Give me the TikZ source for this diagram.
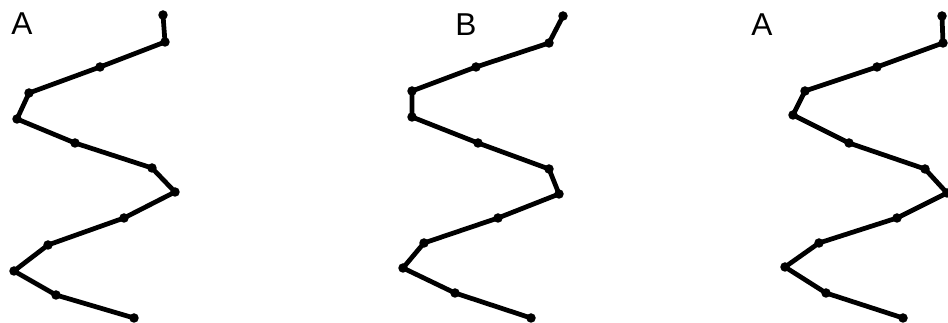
\documentclass[tikz,border=0pt]{standalone}
\usepackage{fontspec}
\setmainfont{Liberation Sans}
\usepackage{tikz}

\begin{document}
\begin{tikzpicture}[x=0.02cm,y=-0.02cm]
  \tikzstyle{joint}=[circle,fill=black,inner sep=0pt,minimum size=0.19cm]
  \tikzstyle{bond}=[line width=2.7pt,line cap=round]
  \tikzstyle{tag}=[font=\fontsize{18}{21}\selectfont]
  \useasboundingbox (0,0) rectangle (948,323);
  % left chain
  \node[tag] (tagA) at (22,24) {A};
  \node[joint] (a1) at (163,15) {};
  \node[joint] (a2) at (165,42) {};
  \node[joint] (a3) at (100,67) {};
  \node[joint] (a4) at (29,93) {};
  \node[joint] (a5) at (17,119) {};
  \node[joint] (a6) at (75,143) {};
  \node[joint] (a7) at (152,168) {};
  \node[joint] (a8) at (175,192) {};
  \node[joint] (a9) at (124,218) {};
  \node[joint] (a10) at (48,245) {};
  \node[joint] (a11) at (14,271) {};
  \node[joint] (a12) at (56,295) {};
  \node[joint] (a13) at (134,318) {};
  % middle chain
  \node[tag] (tagB) at (466,25) {B};
  \node[joint] (b1) at (563,16) {};
  \node[joint] (b2) at (549,43) {};
  \node[joint] (b3) at (476,67) {};
  \node[joint] (b4) at (412,91) {};
  \node[joint] (b5) at (412,117) {};
  \node[joint] (b6) at (478,143) {};
  \node[joint] (b7) at (549,169) {};
  \node[joint] (b8) at (559,194) {};
  \node[joint] (b9) at (498,218) {};
  \node[joint] (b10) at (424,243) {};
  \node[joint] (b11) at (403,268) {};
  \node[joint] (b12) at (455,293) {};
  \node[joint] (b13) at (531,318) {};
  % right chain
  \node[tag] (tagC) at (762,25) {A};
  \node[joint] (c1) at (942,16) {};
  \node[joint] (c2) at (943,43) {};
  \node[joint] (c3) at (877,67) {};
  \node[joint] (c4) at (805,91) {};
  \node[joint] (c5) at (793,115) {};
  \node[joint] (c6) at (849,143) {};
  \node[joint] (c7) at (925,169) {};
  \node[joint] (c8) at (947,193) {};
  \node[joint] (c9) at (897,218) {};
  \node[joint] (c10) at (819,243) {};
  \node[joint] (c11) at (785,267) {};
  \node[joint] (c12) at (826,293) {};
  \node[joint] (c13) at (903,318) {};
  \draw[bond] (a1.center)--(a2.center)--(a3.center)--(a4.center)--(a5.center)--(a6.center)--(a7.center)
    --(a8.center)--(a9.center)--(a10.center)--(a11.center)--(a12.center)--(a13.center);
  \draw[bond] (b1.center)--(b2.center)--(b3.center)--(b4.center)--(b5.center)--(b6.center)--(b7.center)
    --(b8.center)--(b9.center)--(b10.center)--(b11.center)--(b12.center)--(b13.center);
  \draw[bond] (c1.center)--(c2.center)--(c3.center)--(c4.center)--(c5.center)--(c6.center)--(c7.center)
    --(c8.center)--(c9.center)--(c10.center)--(c11.center)--(c12.center)--(c13.center);
\end{tikzpicture}
\end{document}
